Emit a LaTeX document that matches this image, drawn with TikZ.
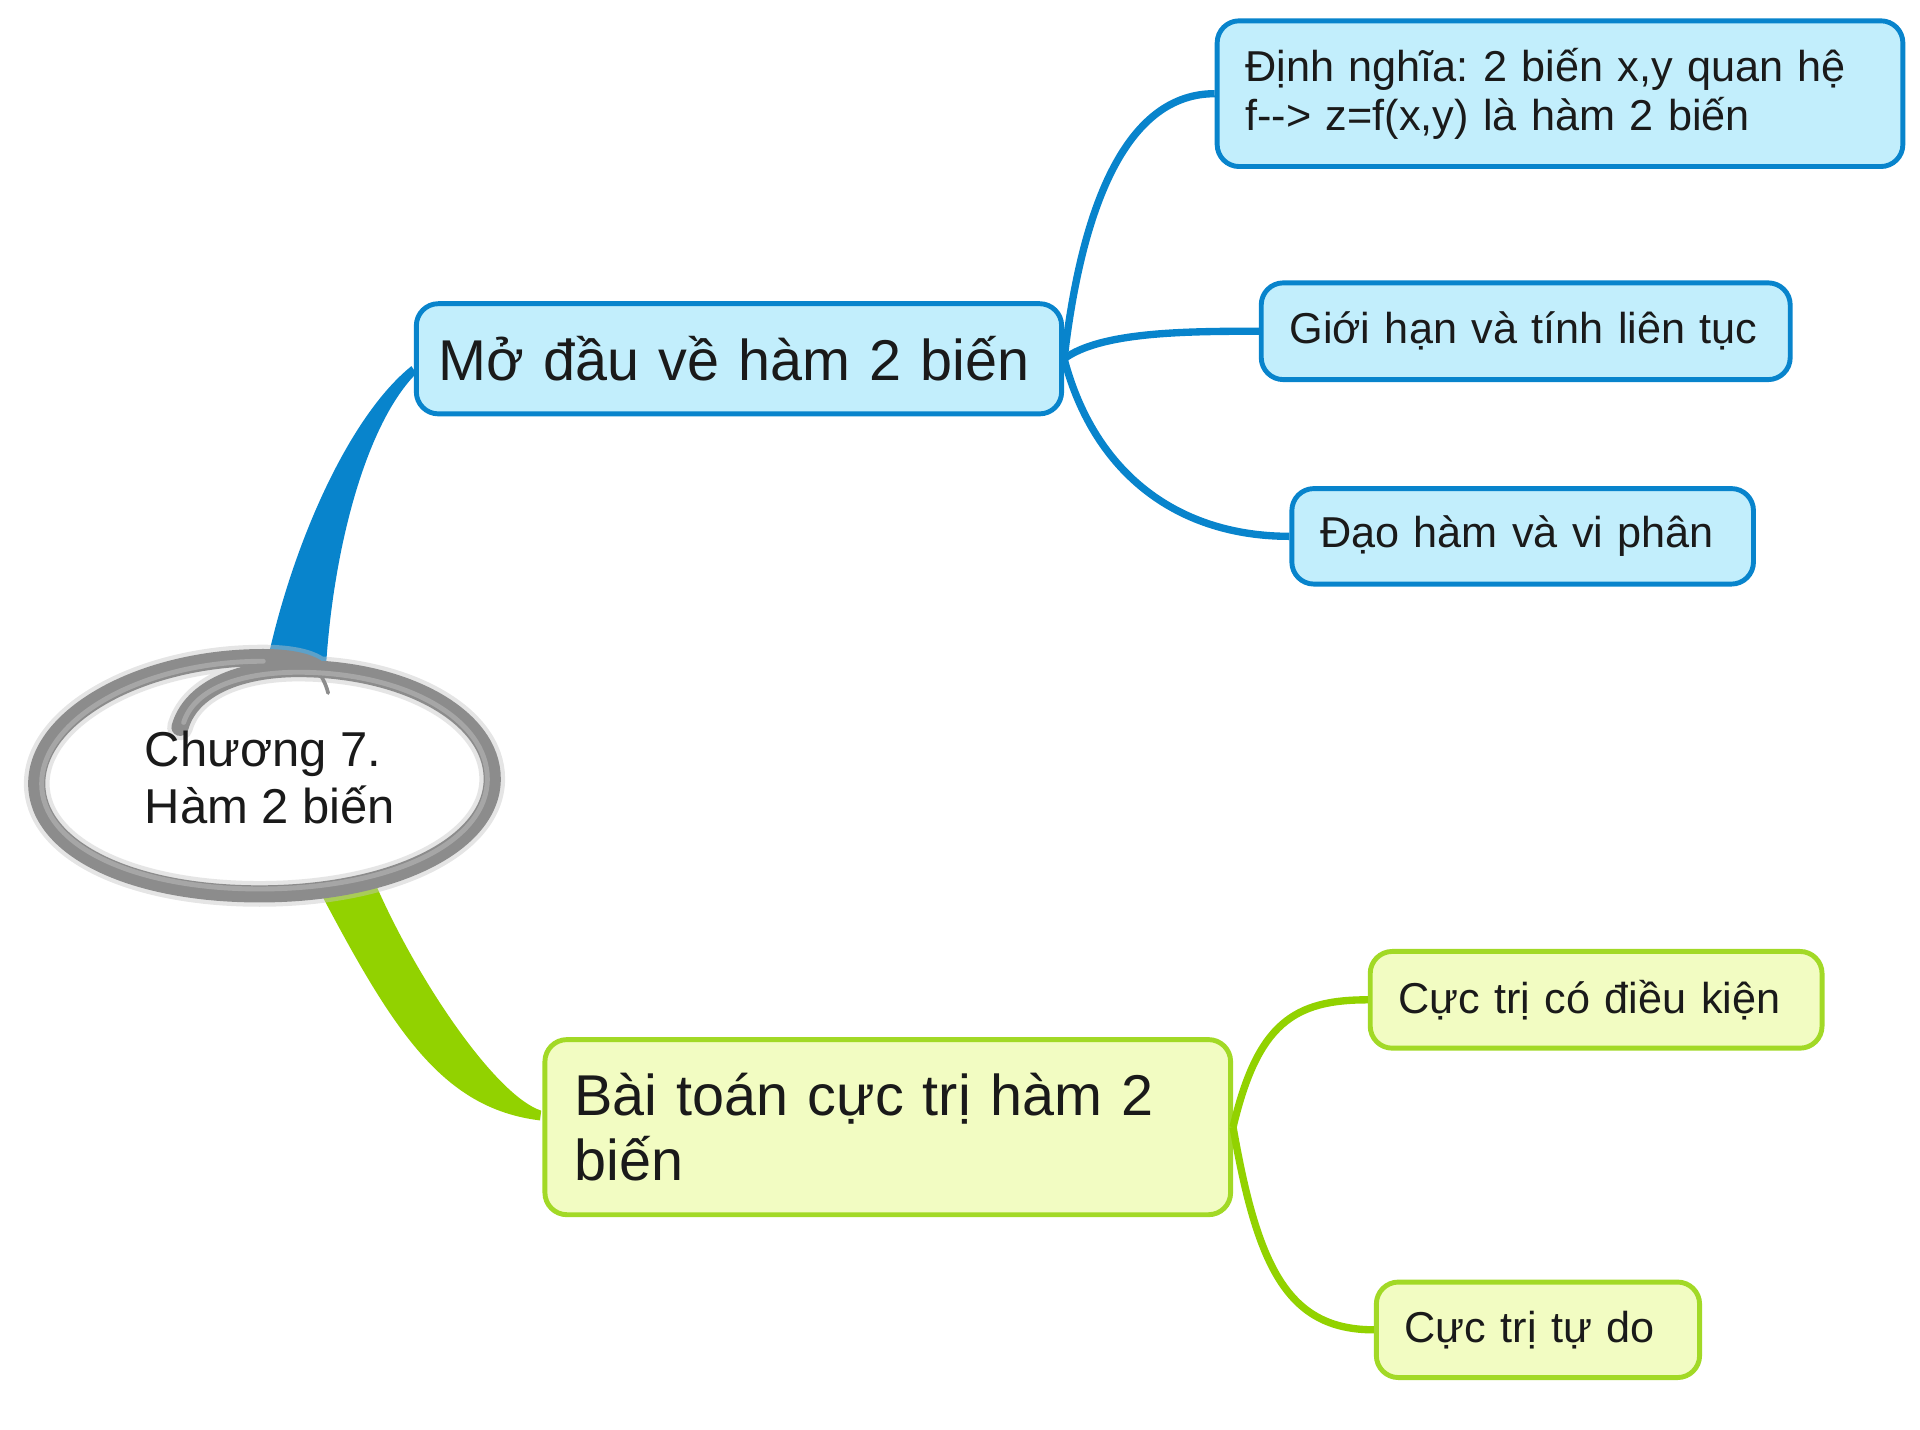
\documentclass[tikz,border=0pt]{standalone}
\usepackage{fontspec}
\setmainfont{Liberation Sans}
\usetikzlibrary{calc}
\frenchspacing

\definecolor{mblue}{RGB}{8,132,204}
\definecolor{mcyan}{RGB}{194,238,252}
\definecolor{mgreen}{RGB}{146,210,0}
\definecolor{mlime}{RGB}{242,252,194}
\definecolor{mtext}{RGB}{26,26,26}

\begin{document}
\begin{tikzpicture}[x=1pt, y=-1pt,
    bluebox/.style = {draw=mblue, fill=mcyan, line width=4pt, rounded corners=18pt,
        anchor=west, align=left, inner xsep=22pt, inner ysep=0pt, text=mtext},
    greenbox/.style = {bluebox, draw=mgreen!85!white, fill=mlime},
    bluelink/.style = {draw=mblue, line width=6pt},
    greenlink/.style = {draw=mgreen, line width=6pt},
    bigtext/.style = {font=\fontsize{47}{53}\selectfont},
    smalltext/.style = {font=\fontsize{35.3}{40}\selectfont}]
        \useasboundingbox (0,0) rectangle (1568,1167.8);

        % topics
        \node [bluebox, bigtext, text width=491pt, inner xsep=18pt, minimum height=90pt] (intro) at (338,293) {Mở đầu về hàm 2 biến};
        \node [bluebox, smalltext, text width=514pt, inner xsep=23pt, minimum height=119pt] (defn) at (992,76.5) {Định nghĩa: 2 biến x,y quan hệ\\f-{}-{}> z=f(x,y) là hàm 2 biến};
        \node [bluebox, smalltext, text width=386pt, inner xsep=23pt, minimum height=79pt] (limit) at (1028,270.5) {Giới hạn và tính liên tục};
        \node [bluebox, smalltext, text width=331pt, inner xsep=23pt, minimum height=78pt] (deriv) at (1053,438) {Đạo hàm và vi phân};

        \node [greenbox, bigtext, text width=512pt, inner xsep=24pt, minimum height=143pt] (extr) at (443,920.5) {Bài toán cực trị hàm 2\\biến};
        \node [greenbox, smalltext, text width=323pt, inner xsep=23pt, minimum height=79pt] (cond) at (1117,816.5) {Cực trị có điều kiện};
        \node [greenbox, smalltext, text width=218pt, inner xsep=23pt, minimum height=78pt] (free) at (1122,1086) {Cực trị tự do};

        % main branches
        \coordinate (ctop) at (242,546);
        \coordinate (cbot) at (282,720);
        \fill [mblue] ($(ctop)+(-25,0)$) .. controls +(21,-101) and +(-51,41) .. ($(intro.west)+(-2,6)$)
            -- ($(intro.west)+(2,12)$) .. controls +(-40,40) and +(6,-103) .. ($(ctop)+(24,2)$) -- cycle;
        \fill [mgreen] ($(cbot)+(-24,2)$) .. controls +(62,118) and +(-81,-10) .. ($(extr.west)+(-2,-5.5)$)
            -- ($(extr.west)+(-1,-13.5)$) .. controls +(-37,-12) and +(35,82) .. ($(cbot)+(23,-2)$) -- cycle;

        % central ellipse
        \fill [white] (216,636) ellipse (186 and 96);
        \draw [gray!45, line width=21pt, line cap=round, opacity=0.45]
            (147,594) .. controls (155,565) and (190,547) .. (240,546)
            .. controls (330,545) and (402,585) .. (402,636)
            .. controls (402,690) and (320,730) .. (212,730)
            .. controls (105,730) and (30,692) .. (30,640)
            .. controls (30,585) and (115,537) .. (215,537)
            .. controls (235,537) and (250,540) .. (258,545);
        \draw [gray!90, line width=14pt, line cap=round]
            (147,594) .. controls (155,565) and (190,547) .. (240,546)
            .. controls (330,545) and (402,585) .. (402,636)
            .. controls (402,690) and (320,730) .. (212,730)
            .. controls (105,730) and (30,692) .. (30,640)
            .. controls (30,585) and (115,537) .. (215,537)
            .. controls (235,537) and (250,540) .. (258,545);
        \draw [gray!90, line width=3pt, line cap=round] (256,544) .. controls (262,550) and (266,558) .. (268,566);
        \draw [gray!60, line width=4pt, line cap=round, opacity=0.7]
            (150,590) .. controls (158,565) and (190,550) .. (240,549)
            .. controls (330,548) and (398,587) .. (398,636)
            .. controls (398,688) and (320,726) .. (212,726)
            .. controls (108,726) and (34,690) .. (34,640)
            .. controls (34,588) and (115,540) .. (215,540);
        \node [font=\fontsize{40}{47}\selectfont, align=left, anchor=west, inner sep=0pt, text=mtext] (core) at (118,635) {Chương 7.\\Hàm 2 biến};

        % sub links
        \draw [bluelink] (intro.east) .. controls +(15,-130) and +(-70,0) .. (defn.west);
        \draw [bluelink] (intro.east) .. controls +(30,-22) and +(-60,0) .. (limit.west);
        \draw [bluelink] (intro.east) .. controls +(25,95) and +(-90,0) .. (deriv.west);
        \draw [greenlink] (extr.east) .. controls +(20,-85) and +(-60,0) .. (cond.west);
        \draw [greenlink] (extr.east) .. controls +(20,115) and +(-70,0) .. (free.west);
    \end{tikzpicture}
\end{document}
